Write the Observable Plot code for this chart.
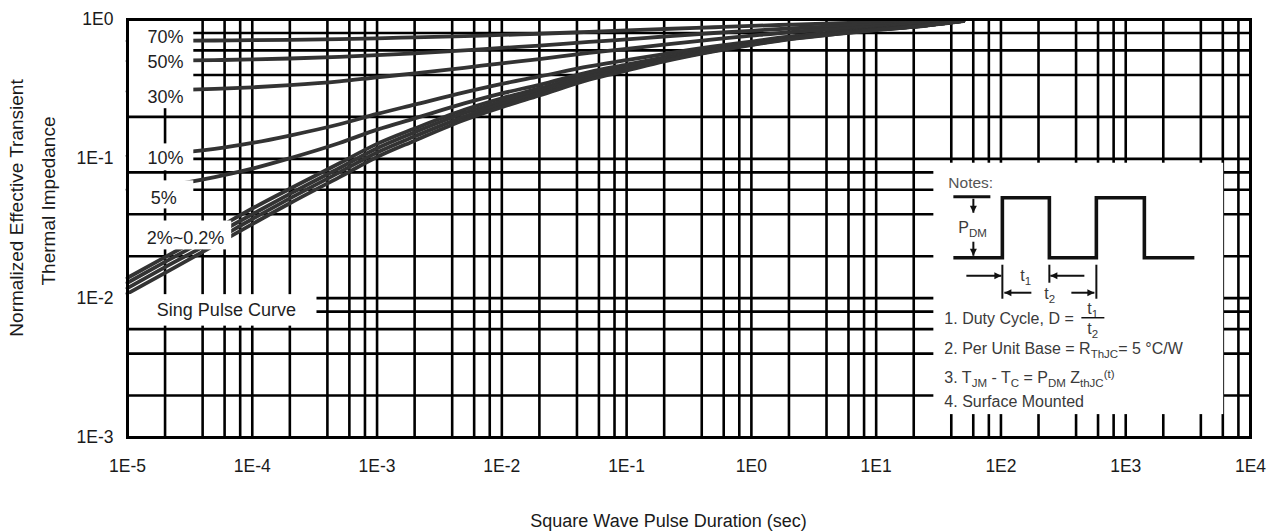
<!DOCTYPE html>
<html><head><meta charset="utf-8">
<script src="https://cdn.jsdelivr.net/npm/d3@7"></script>
<script src="https://cdn.jsdelivr.net/npm/@observablehq/plot@0.6"></script>
<style>
html,body{margin:0;padding:0;background:#fff;}
#chart svg{display:block;}
</style>
</head><body><div id="chart"></div>
<script>
// ---- data ----
const pulseDuration = [1e-5, 2e-5, 5e-5, 1e-4, 2e-4, 5e-4, 1e-3, 2e-3, 5e-3, 1e-2, 2e-2, 5e-2, 0.1, 0.2, 0.5, 1, 2, 5, 10, 20, 50];
const duty70 = [0.702, 0.704, 0.707, 0.71, 0.715, 0.724, 0.733, 0.744, 0.76, 0.775, 0.79, 0.815, 0.835, 0.855, 0.88, 0.9, 0.918, 0.94, 0.953, 0.965, 0.99];
const duty50 = [0.503, 0.506, 0.511, 0.517, 0.525, 0.54, 0.555, 0.572, 0.6, 0.625, 0.65, 0.69, 0.72, 0.755, 0.8, 0.83, 0.862, 0.897, 0.92, 0.94, 0.985];
const duty30 = [0.305, 0.31, 0.318, 0.326, 0.338, 0.36, 0.385, 0.41, 0.45, 0.485, 0.52, 0.575, 0.615, 0.66, 0.72, 0.765, 0.81, 0.855, 0.888, 0.918, 0.982];
const duty10 = [0.105, 0.109, 0.118, 0.13, 0.147, 0.177, 0.21, 0.245, 0.30, 0.345, 0.39, 0.46, 0.51, 0.565, 0.64, 0.695, 0.752, 0.815, 0.858, 0.897, 0.98];
const duty5  = [0.06, 0.064, 0.074, 0.085, 0.101, 0.13, 0.162, 0.195, 0.25, 0.295, 0.34, 0.42, 0.475, 0.535, 0.617, 0.68, 0.74, 0.805, 0.851, 0.892, 0.979];
const duty2  = [0.0140, 0.0197, 0.031, 0.044, 0.061, 0.093, 0.128, 0.165, 0.225, 0.272, 0.32, 0.405, 0.46, 0.525, 0.61, 0.672, 0.735, 0.80, 0.848, 0.89, 0.978];
const duty1  = [0.0129, 0.0182, 0.0285, 0.040, 0.056, 0.086, 0.119, 0.155, 0.213, 0.259, 0.308, 0.392, 0.45, 0.517, 0.603, 0.666, 0.73, 0.797, 0.845, 0.888, 0.977];
const duty02 = [0.0118, 0.0167, 0.026, 0.037, 0.052, 0.080, 0.111, 0.145, 0.201, 0.247, 0.296, 0.381, 0.44, 0.508, 0.596, 0.66, 0.725, 0.793, 0.842, 0.886, 0.976];
const single = [0.0108, 0.0152, 0.024, 0.034, 0.048, 0.074, 0.103, 0.135, 0.19, 0.235, 0.285, 0.37, 0.43, 0.50, 0.59, 0.655, 0.72, 0.79, 0.84, 0.885, 0.975];

const seriesNames = ["70%", "50%", "30%", "10%", "5%", "2%", "1%", "0.2%", "Single"];
const seriesValues = [duty70, duty50, duty30, duty10, duty5, duty2, duty1, duty02, single];

const xDecades = [1e-5, 1e-4, 1e-3, 1e-2, 1e-1, 1, 10, 100, 1000, 10000];
const xTickLabels = ["1E-5", "1E-4", "1E-3", "1E-2", "1E-1", "1E0", "1E1", "1E2", "1E3", "1E4"];
const yDecades = [1e-3, 1e-2, 1e-1, 1];
const yTickLabels = ["1E-3", "1E-2", "1E-1", "1E0"];
const gridMultipliers = [1, 2, 4, 6, 8];

const curveLabels = ["70%", "50%", "30%", "10%", "5%", "2%~0.2%", "Sing Pulse Curve"];
const xTitle = "Square Wave Pulse Duration (sec)";
const yTitle = ["Normalized Effective Transient", "Thermal Impedance"];

// ---- annotation placement (data coordinates) ----
const labelAt = [[2.02e-5, 0.742], [2.02e-5, 0.49], [2.02e-5, 0.279], [2.02e-5, 0.101], [1.95e-5, 0.0524], [2.92e-5, 0.027], [6.2e-5, 0.0082]];
const labelBoxes = [
  [1e-5, 3.4e-5, 0.229, 1.0],
  [1e-5, 3.4e-5, 0.082, 0.128],
  [1e-5, 3.4e-5, 0.0437, 0.0695],
  [1.27e-5, 6.84e-5, 0.0222, 0.0358],
  [1e-5, 3.3e-4, 0.0063, 0.0106]
];
const notesBox = [29, 6100, 0.00146, 0.093];

// ---- build tables ----
const table = seriesNames.flatMap((name, k) => pulseDuration.map((t, i) => ({t, z: seriesValues[k][i], series: name})));
const xGrid = xDecades.flatMap(d => gridMultipliers.map(m => d * m)).filter(v => v <= 1e4 * 1.0001);
const yGrid = yDecades.flatMap(d => gridMultipliers.map(m => d * m)).filter(v => v <= 1.0001);
const labels = curveLabels.map((label, i) => ({label, t: labelAt[i][0], z: labelAt[i][1]}));
const boxes = labelBoxes.concat([notesBox]).map(b => ({x1: b[0], x2: b[1], y1: b[2], y2: b[3]}));

const FONT = "'Liberation Sans', Arial, Helvetica, sans-serif";

const chart = Plot.plot({
  width: 1277, height: 532,
  marginLeft: 127, marginRight: 27, marginTop: 19, marginBottom: 95,
  style: {fontFamily: FONT, fontSize: "17.5px", color: "#1a1a1a", background: "#fff"},
  x: {type: "log", domain: [1e-5, 1e4]},
  y: {type: "log", domain: [1e-3, 1]},
  marks: [
    Plot.gridX(xGrid, {stroke: "#000", strokeOpacity: 1, strokeWidth: 2.6}),
    Plot.gridY(yGrid, {stroke: "#000", strokeOpacity: 1, strokeWidth: 2.6}),
    Plot.line(table, {x: "t", y: "z", z: "series", stroke: "#333", strokeWidth: 3.8, curve: "monotone-x"}),
    Plot.rect(boxes, {x1: "x1", x2: "x2", y1: "y1", y2: "y2", fill: "#fff"}),
    Plot.text(labels, {x: "t", y: "z", text: "label", fontSize: 18, fill: "#1e1e1e", textAnchor: "middle"}),
    Plot.frame({stroke: "#000", strokeWidth: 3}),
    Plot.axisX(xDecades, {tickSize: 0, tickPadding: 22, label: null, fontSize: 17.5,
      tickFormat: d => xTickLabels[xDecades.indexOf(d)]}),
    Plot.axisY(yDecades, {tickSize: 0, tickPadding: 14, label: null, fontSize: 17.5,
      tickFormat: d => yTickLabels[yDecades.indexOf(d)]})
  ]
});
document.getElementById("chart").appendChild(chart);

// ---- titles and the notes inset ----
const svg = d3.select(chart);
const sx = chart.scale("x"), sy = chart.scale("y");
const plotCx = (sx.apply(1e-5) + sx.apply(1e4)) / 2;

svg.append("text").attr("x", plotCx - 20).attr("y", 527)
  .attr("text-anchor", "middle").attr("font-family", FONT).attr("font-size", 18).attr("fill", "#1a1a1a")
  .text(xTitle);
[[18, 208], [50, 201]].forEach(([x, y], i) => {
  svg.append("text").attr("transform", `translate(${x},${y}) rotate(-90)`)
    .attr("text-anchor", "middle").attr("dominant-baseline", "middle")
    .attr("font-family", FONT).attr("font-size", 19).attr("fill", "#1a1a1a")
    .text(yTitle[i]);
});

const bx = sx.apply(notesBox[0]), by = sy.apply(notesBox[3]);
const g = svg.append("g").attr("transform", `translate(${bx},${by})`)
  .attr("font-family", FONT).attr("fill", "#3a3a3a").attr("text-anchor", "start");
const ink = "#111";
function seg(x1, y1, x2, y2, w = 2) {
  g.append("line").attr("x1", x1).attr("y1", y1).attr("x2", x2).attr("y2", y2)
    .attr("stroke", ink).attr("stroke-width", w);
}
function arrow(x1, y1, x2, y2) {
  seg(x1, y1, x2, y2, 2);
  const a = Math.atan2(y2 - y1, x2 - x1), L = 7, W = 3.5;
  const bxh = x2 - L * Math.cos(a), byh = y2 - L * Math.sin(a);
  const px = -Math.sin(a) * W, py = Math.cos(a) * W;
  g.append("polygon").attr("points", `${x2},${y2} ${bxh + px},${byh + py} ${bxh - px},${byh - py}`).attr("fill", ink);
}
function rich(textEl, parts) {
  parts.forEach(([s, kind]) => {
    const ts = textEl.append("tspan").text(s);
    if (kind === "s") ts.attr("font-size", 11.5).attr("baseline-shift", "-4");
    if (kind === "p") ts.attr("font-size", 11.5).attr("baseline-shift", "5");
  });
}
function txt(x, y, anchor = "start", size = 16) {
  return g.append("text").attr("x", x).attr("y", y).attr("font-size", size).attr("text-anchor", anchor);
}

txt(15, 25, "start", 15.5).attr("fill", "#555").text("Notes:");
seg(20, 34, 57, 34, 3);
g.append("path").attr("d", "M20,95 H69 V35 H116 V95 H163 V35 H211 V95 H261")
  .attr("fill", "none").attr("stroke", ink).attr("stroke-width", 3.6);
arrow(40, 36, 40, 50);
arrow(40, 79, 40, 93);
rich(txt(25, 70), [["P", "n"], ["DM", "s"]]);

// t1 row
arrow(33, 113, 68, 113);
seg(69, 102, 69, 136, 2);
arrow(151, 113, 117, 113);
seg(116, 102, 116, 120, 2);
seg(163, 102, 163, 136, 2);
rich(txt(87, 118), [["t", "n"], ["1", "s"]]);
// t2 row
arrow(98, 130, 71, 130);
arrow(138, 130, 161, 130);
rich(txt(111, 136), [["t", "n"], ["2", "s"]]);

// notes text
txt(11, 161).text("1. Duty Cycle, D =");
rich(txt(154, 151), [["t", "n"], ["1", "s"]]);
seg(148, 155, 171, 155, 1.5);
rich(txt(154, 171), [["t", "n"], ["2", "s"]]);
rich(txt(11, 191), [["2. Per Unit Base = R", "n"], ["ThJC", "s"], ["= 5 °C/W", "n"]]);
rich(txt(11, 220), [["3. T", "n"], ["JM", "s"], [" - T", "n"], ["C", "s"], [" = P", "n"], ["DM", "s"], [" Z", "n"], ["thJC", "s"], ["(t)", "p"]]);
txt(11, 244).text("4. Surface Mounted");
</script>
</body></html>
